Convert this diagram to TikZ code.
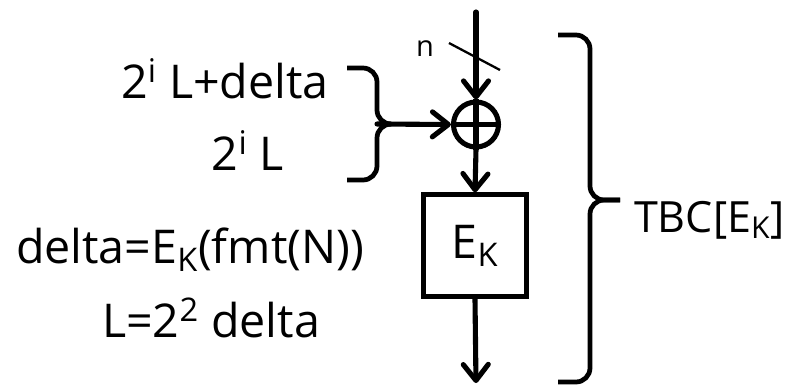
\documentclass[tikz,border=0pt]{standalone}
\usepackage{fontspec}
\setmainfont{Open Sans}
\usetikzlibrary{arrows.meta}

\begin{document}
\begin{tikzpicture}[x=0.02cm, y=-0.02cm,
    txt/.style={font=\fontsize{26.5}{31}\selectfont, inner sep=0pt, anchor=base},
    arr/.style={-{Straight Barb[length=0.32cm, width=0.5cm, line cap=round, line join=round]}, line width=2.9pt, line cap=round},
    brk/.style={line width=2.7pt, rounded corners=8pt},
    xorc/.style={circle, draw, line width=2.9pt, minimum size=0.9cm, inner sep=0pt},
    blk/.style={draw, line width=2.5pt, minimum width=2.06cm, minimum height=2.04cm, inner sep=0pt, font=\fontsize{26.5}{31}\selectfont}
]
\useasboundingbox (0,0) rectangle (789,387);

% main data path
\coordinate (in) at (476,12);
\coordinate (out) at (476,383);
\node[xorc] (xor) at (476,124.5) {};
\node[blk] (ek) at (475,245.5) {E\textsubscript{K}};

\draw[arr] (in) -- (xor.north);
\draw[arr] (xor.south) -- (ek.north);
\draw[arr] (ek.south) -- (out);
\draw[line width=2.9pt] (xor.west) -- (xor.east);
\draw[line width=2.9pt] (xor.north) -- (xor.south);

% bus width mark
\coordinate (sa) at (449,43);
\coordinate (sb) at (500,70);
\draw[line width=1.3pt] (sa) -- (sb);
\node[font=\fontsize{16.5}{18}\selectfont, inner sep=0pt, anchor=base] (nlbl) at (425,56) {n};

% left bracket into the xor
\coordinate (ltip) at (377,124);
\draw[brk] (347,68) -| (ltip) -- ++(14,0);
\draw[brk] (347,180) -| (ltip) -- ++(14,0);
\draw[arr] (ltip) -- (xor.west);

\node[txt] (sum) at (225,98) {2\textsuperscript{i} L+delta};
\node[txt] (twoil) at (248,170) {2\textsuperscript{i} L};
\node[txt] (delta) at (190,263) {delta=E\textsubscript{K}(fmt(N))};
\node[txt] (lval) at (211,337) {L=2\textsuperscript{2} delta};

% right brace
\coordinate (rtip) at (590,200);
\coordinate (rend) at (620,200);
\draw[brk] (558,35) -| (rtip) -- (rend);
\draw[brk] (558,382) -| (rtip) -- (rend);
\node[txt, font=\fontsize{24.5}{29}\selectfont, anchor=base east] (tbc) at (785,232) {TBC[E\textsubscript{K}]};
\end{tikzpicture}
\end{document}
